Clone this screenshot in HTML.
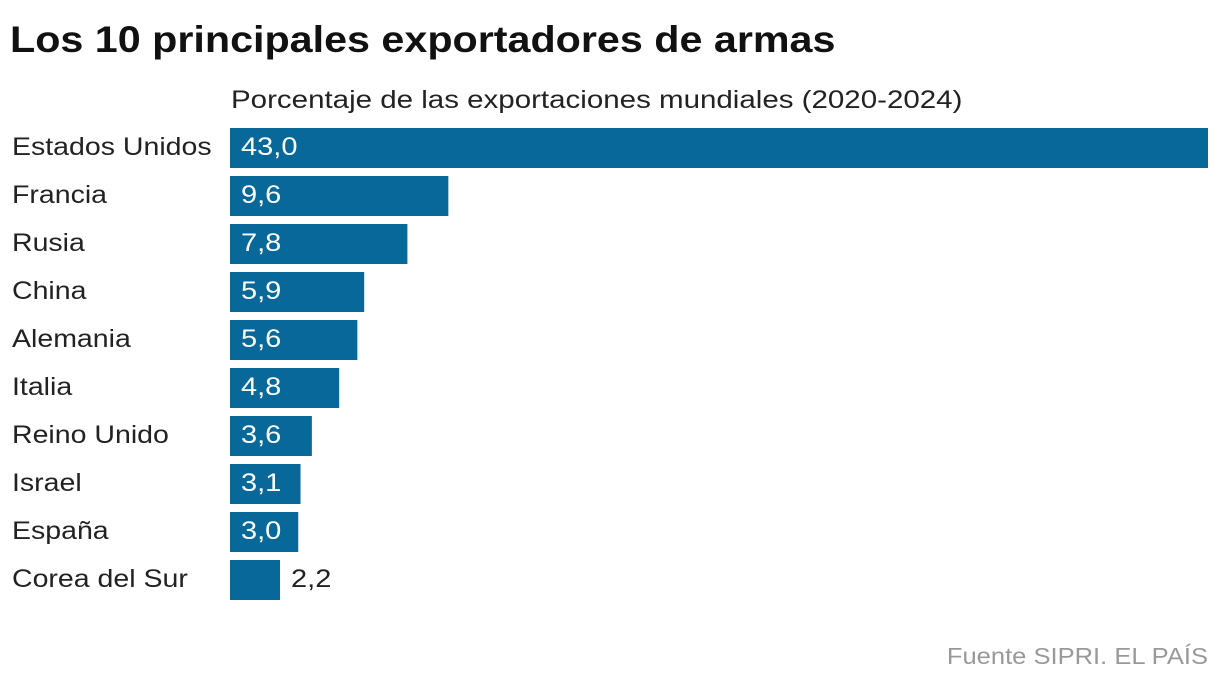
<!DOCTYPE html>
<html><head><meta charset="utf-8"><style>
body{margin:0;background:#fff;width:1220px;height:684px;overflow:hidden;font-family:"Liberation Sans",sans-serif;}
svg{display:block}
</style></head><body>
<svg width="1220" height="684">
<text x="10" y="52" font-size="37" font-weight="bold" fill="#111" data-sx="1.115">Los 10 principales exportadores de armas</text>
<text x="231" y="108" font-size="25" fill="#222" data-sx="1.18">Porcentaje de las exportaciones mundiales (2020-2024)</text>
<g id="bars"></g>
<text x="1208" y="664" font-size="23" fill="#999" text-anchor="end" data-sx="1.11">Fuente SIPRI. EL PAÍS</text>
</svg>
<script>
const categories=["Estados Unidos","Francia","Rusia","China","Alemania","Italia","Reino Unido","Israel","España","Corea del Sur"];
const values=[43.0,9.6,7.8,5.9,5.6,4.8,3.6,3.1,3.0,2.2];
const labels=["43,0","9,6","7,8","5,9","5,6","4,8","3,6","3,1","3,0","2,2"];
const x0=230,x1=1208,maxV=43.0;
const xs=v=>(v/maxV)*(x1-x0);
const ys=i=>128+i*48;
const g=document.getElementById('bars');
const ns='http://www.w3.org/2000/svg';
categories.forEach((c,i)=>{
  const y=ys(i),w=xs(values[i]);
  const t=document.createElementNS(ns,'text');
  t.setAttribute('x',12);t.setAttribute('y',y+27);t.setAttribute('font-size','25');t.setAttribute('fill','#222');
  t.setAttribute('data-sx','1.14');
  t.textContent=c;
  
  
  g.appendChild(t);
  const r=document.createElementNS(ns,'rect');
  r.setAttribute('x',x0);r.setAttribute('y',y);r.setAttribute('width',w);r.setAttribute('height',40);r.setAttribute('fill','#08689a');
  
  
  g.appendChild(r);
  const inside=w>60;
  const v=document.createElementNS(ns,'text');
  v.setAttribute('x',inside?x0+11:x0+w+11);v.setAttribute('y',y+27);v.setAttribute('font-size','25');
  v.setAttribute('fill',inside?'#fff':'#222');
  v.setAttribute('data-sx','1.16');
  v.textContent=labels[i];
  
  
  g.appendChild(v);
});
document.querySelectorAll('text[data-sx]').forEach(t=>{
  const L=t.getComputedTextLength()*parseFloat(t.getAttribute('data-sx'));
  t.setAttribute('textLength',L);
  t.setAttribute('lengthAdjust','spacingAndGlyphs');
});
</script>
</body></html>
